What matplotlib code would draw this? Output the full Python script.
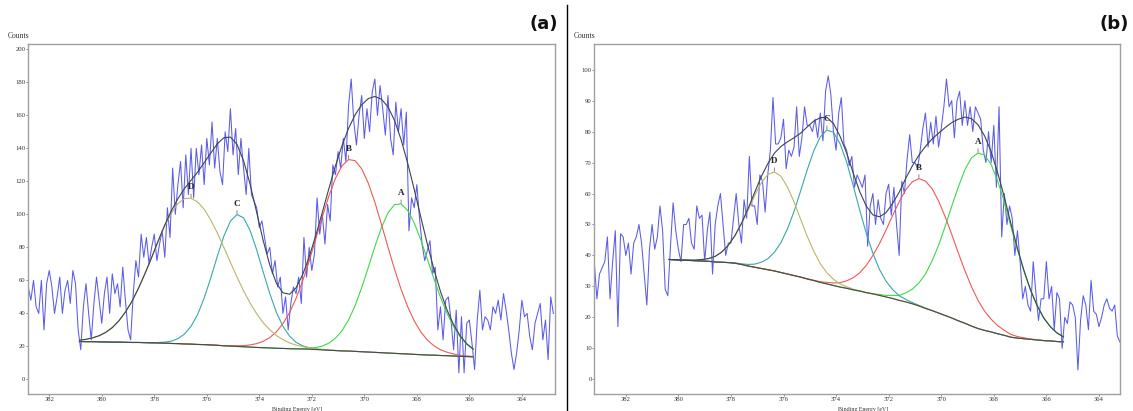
import numpy as np
import matplotlib
matplotlib.use("Agg")
import matplotlib.pyplot as plt
from matplotlib.lines import Line2D

# ---------------- panel (a) ----------------
# measured spectrum, 0.1 eV steps from 382.8 to 362.8 eV
energy_a = np.linspace(382.8, 362.8, 201)
counts_a = [
    56, 48, 60, 44, 40, 60, 30, 58, 66, 56,
    40, 50, 62, 40, 54, 60, 46, 66, 58, 30,
    18, 44, 58, 40, 24, 46, 62, 48, 34, 52,
    62, 40, 64, 52, 58, 44, 68, 48, 30, 24,
    52, 72, 62, 88, 74, 86, 70, 80, 88, 72,
    82, 90, 74, 104, 86, 128, 100, 118, 132, 104,
    136, 112, 140, 110, 140, 124, 142, 118, 146, 130,
    156, 128, 146, 126, 118, 150, 138, 164, 136, 152,
    124, 146, 128, 112, 140, 112, 108, 104, 92, 96,
    86, 76, 80, 64, 72, 56, 62, 40, 50, 30,
    46, 56, 52, 62, 46, 86, 62, 80, 66, 76,
    110, 88, 100, 82, 106, 96, 130, 124, 138, 128,
    146, 132, 166, 182, 156, 142, 160, 172, 146, 164,
    150, 174, 182, 160, 178, 164, 148, 172, 146, 136,
    168, 150, 164, 142, 162, 90, 110, 104, 118, 98,
    82, 72, 78, 84, 64, 68, 30, 44, 24, 48,
    50, 36, 18, 42, 4, 38, 4, 34, 36, 22,
    6, 36, 54, 30, 38, 36, 30, 44, 40, 48,
    36, 52, 42, 30, 16, 6, 16, 30, 48, 38,
    40, 26, 18, 34, 40, 46, 24, 36, 12, 50,
    40,
]

# fitted curves, 0.25 eV steps from 380.85 to 365.85 eV
fit_e_a = np.linspace(380.85, 365.85, 61)
base_a = [
    23.0, 22.9, 22.9, 22.8, 22.7, 22.6, 22.6, 22.5, 22.4, 22.4,
    22.3, 22.2, 22.1, 22.0, 21.8, 21.7, 21.5, 21.4, 21.2, 21.1,
    20.9, 20.7, 20.4, 20.2, 20.0, 19.8, 19.6, 19.4, 19.2, 19.1,
    18.9, 18.8, 18.6, 18.5, 18.4, 18.3, 18.1, 17.9, 17.7, 17.5,
    17.3, 17.2, 17.0, 16.8, 16.6, 16.4, 16.2, 16.0, 15.8, 15.6,
    15.4, 15.2, 15.0, 14.8, 14.7, 14.5, 14.4, 14.2, 14.0, 13.9,
    13.7,
]
# component heights above the background
peak_d_a = [
    0.8, 1.4, 2.3, 3.7, 5.8, 8.8, 12.9, 18.3, 24.9, 32.9,
    42.0, 51.7, 61.6, 71.0, 78.9, 84.8, 88.1, 88.4, 86.3, 82.0,
    75.7, 68.1, 59.6, 50.7, 42.1, 33.9, 26.7, 20.4, 15.1, 11.0,
    7.7, 5.3, 3.5, 2.3, 1.5, 0.9, 0.5, 0.3, 0.2, 0.1,
] + [0.0] * 21
peak_c_a = [0.0] * 12 + [
    0.3, 0.6, 1.4, 3.0, 6.0, 10.8, 18.1, 28.2, 40.5, 53.9,
    66.4, 75.7, 79.9, 78.1, 70.6, 59.1, 45.8, 32.9, 21.8, 13.4,
    7.7, 4.0, 2.0, 0.9, 0.4, 0.1,
] + [0.0] * 23
peak_b_a = [0.0] * 23 + [
    0.2, 0.4, 0.7, 1.3, 2.3, 3.9, 6.3, 9.9, 15.0, 21.8,
    30.6, 41.2, 53.5, 67.0, 80.6, 93.4, 104.3, 112.1, 116.0, 115.5,
    110.8, 102.3, 91.0, 77.9, 64.2, 51.0, 39.0, 28.7, 20.3, 13.8,
    9.1, 5.7, 3.5, 2.1, 1.2, 0.6, 0.3, 0.2,
]
peak_a_a = [0.0] * 32 + [
    0.0, 0.1, 0.3, 0.6, 1.2, 2.3, 4.3, 7.5, 12.2, 18.9,
    27.8, 38.8, 51.2, 64.0, 75.7, 84.9, 90.1, 90.7, 87.0, 79.6,
    69.6, 58.1, 46.3, 35.3, 25.6, 17.8, 11.8, 7.4, 4.5,
]

# ---------------- panel (b) ----------------
energy_b = np.linspace(383.2, 363.2, 201)
counts_b = [
    38, 26, 34, 36, 38, 46, 26, 38, 48, 17,
    47, 46, 40, 44, 34, 44, 46, 50, 44, 34,
    24, 42, 50, 42, 46, 56, 48, 29, 27, 43,
    57, 48, 42, 38, 50, 50, 52, 44, 42, 56,
    52, 53, 38, 48, 54, 34, 50, 56, 60, 50,
    40, 44, 44, 52, 60, 50, 44, 58, 52, 72,
    56, 56, 50, 66, 64, 54, 66, 74, 91, 76,
    76, 78, 84, 68, 74, 72, 75, 88, 72, 78,
    88, 82, 82, 80, 84, 78, 86, 77, 93, 98,
    92, 80, 74, 86, 91, 76, 74, 69, 72, 62,
    66, 64, 62, 66, 43, 56, 60, 50, 58, 52,
    50, 60, 63, 53, 62, 50, 40, 64, 60, 71,
    79, 70, 70, 68, 74, 81, 86, 75, 83, 76,
    85, 75, 81, 88, 97, 88, 90, 78, 90, 93,
    82, 90, 82, 88, 80, 88, 86, 84, 74, 70,
    80, 70, 82, 62, 88, 46, 60, 50, 56, 52,
    40, 48, 38, 26, 30, 24, 22, 38, 28, 19,
    26, 26, 38, 26, 30, 16, 28, 26, 10, 20,
    18, 25, 24, 20, 3, 19, 27, 24, 16, 32,
    22, 21, 17, 20, 24, 26, 23, 22, 24, 14,
    12,
]

fit_e_b = np.linspace(380.35, 365.35, 61)
base_b = [
    38.7, 38.6, 38.5, 38.4, 38.3, 38.2, 38.1, 37.9, 37.8, 37.7,
    37.5, 37.1, 36.6, 36.2, 35.8, 35.4, 35.0, 34.5, 34.0, 33.5,
    33.0, 32.4, 31.9, 31.3, 30.8, 30.3, 29.8, 29.4, 28.9, 28.5,
    28.0, 27.6, 27.1, 26.6, 26.1, 25.5, 25.0, 24.4, 23.7, 22.9,
    22.2, 21.4, 20.6, 19.8, 18.9, 18.1, 17.2, 16.4, 15.8, 15.3,
    14.7, 14.2, 13.6, 13.3, 13.1, 12.9, 12.7, 12.5, 12.4, 12.2,
    12.1,
]
peak_d_b = [
    0.0, 0.0, 0.0, 0.1, 0.2, 0.5, 0.9, 1.8, 3.3, 5.6,
    8.8, 13.1, 18.0, 23.1, 27.6, 30.7, 32.0, 31.1, 28.1, 23.8,
    18.7, 13.8, 9.5, 6.0, 3.6, 2.0, 1.0, 0.5, 0.2, 0.1,
    0.0, 0.0,
] + [0.0] * 29
peak_c_b = [0.0] * 8 + [
    0.0, 0.0, 0.1, 0.2, 0.5, 1.0, 2.0, 3.5, 6.0, 9.6,
    14.6, 20.7, 27.8, 35.2, 41.9, 47.0, 49.7, 49.5, 46.3, 40.8,
    33.7, 26.1, 19.1, 13.1, 8.4, 5.1, 2.9, 1.5, 0.8, 0.4,
    0.2, 0.1,
] + [0.0] * 21
peak_b_b = [0.0] * 21 + [
    0.1, 0.1, 0.2, 0.5, 0.8, 1.4, 2.4, 3.9, 5.9, 8.8,
    12.4, 16.7, 21.6, 26.8, 31.8, 36.2, 39.4, 41.1, 41.1, 39.4,
    36.2, 31.9, 27.0, 21.9, 17.0, 12.7, 9.1, 6.2, 4.1, 2.6,
    1.6, 0.9, 0.5, 0.3, 0.1, 0.1, 0.0, 0.0, 0.0, 0.0,
]
peak_a_b = [0.0] * 32 + [
    0.3, 0.5, 1.0, 1.6, 2.9, 4.7, 7.4, 11.1, 16.0, 21.9,
    28.8, 36.1, 43.2, 49.6, 54.3, 56.7, 56.6, 54.1, 49.3, 43.1,
    35.8, 28.5, 21.7, 15.8, 11.0, 7.3, 4.6, 2.8, 1.6,
]

peak_names = ["A", "B", "C", "D"]
peak_colors = ["#3fd84a", "#ee5a55", "#3aa7a8", "#bdb56a"]
x_ticks = [382, 380, 378, 376, 374, 372, 370, 368, 366, 364]

panels = [
    dict(energy=energy_a, counts=counts_a, fit_e=fit_e_a, base=base_a,
         peaks=[peak_a_a, peak_b_a, peak_c_a, peak_d_a],
         xlim=(382.81, 362.74), ylim=(-9.1, 203.2), yticks=range(0, 201, 20),
         rect=[0.0247, 0.0402, 0.4651, 0.8528], tag="(a)", tag_x=0.4925,
         counts_x=0.007, label_x=0.262),
    dict(energy=energy_b, counts=counts_b, fit_e=fit_e_b, base=base_b,
         peaks=[peak_a_b, peak_b_b, peak_c_b, peak_d_b],
         xlim=(383.2, 363.2), ylim=(-4.9, 108.3), yticks=range(0, 101, 10),
         rect=[0.5245, 0.0402, 0.4640, 0.8528], tag="(b)", tag_x=0.996,
         counts_x=0.506, label_x=0.762),
]

serif = ["Liberation Serif", "DejaVu Serif"]

fig = plt.figure(figsize=(11.33, 4.11), dpi=100)
fig.patch.set_facecolor("white")

for p in panels:
    ax = fig.add_axes(p["rect"])
    base = np.array(p["base"])
    ax.plot(p["energy"], p["counts"], color="#5b5be8", lw=0.75, zorder=1)
    total = base.copy()
    for name, comp, col in zip(peak_names, p["peaks"], peak_colors):
        comp = np.array(comp)
        total = total + comp
        curve = base + comp
        ax.plot(p["fit_e"], curve, color=col, lw=0.8, zorder=2)
        i = int(np.argmax(comp))
        ax.annotate(name, xy=(p["fit_e"][i], curve[i]), xytext=(0, 5),
                    textcoords="offset points", ha="center", va="bottom",
                    fontsize=6.5, fontweight="bold", family=serif,
                    color="#222222",
                    arrowprops=dict(arrowstyle="-", lw=0.5, color="#555555",
                                    shrinkA=0, shrinkB=0.5))
    ax.plot(p["fit_e"], base, color="#4a4a4a", lw=0.8, zorder=3)
    ax.plot(p["fit_e"], total, color="#3c4450", lw=0.8, zorder=4)

    ax.set_xlim(*p["xlim"])
    ax.set_ylim(*p["ylim"])
    ax.set_xticks(x_ticks)
    ax.set_yticks(list(p["yticks"]))
    ax.tick_params(length=1.2, width=0.6, color="#777777", labelsize=4.8,
                   labelcolor="#333333", pad=0.6)
    for lab in ax.get_xticklabels() + ax.get_yticklabels():
        lab.set_family(serif)
    for s in ax.spines.values():
        s.set_color("#a0a0a0")
        s.set_linewidth(1.0)

    fig.text(p["counts_x"], 1 - 36 / 411, "Counts", fontsize=5.5,
             family=serif, color="#333333", ha="left", va="center")
    fig.text(p["label_x"], -0.002, "Binding Energy [eV]", fontsize=4.2,
             family=serif, color="#333333", ha="center", va="bottom")
    fig.text(p["tag_x"], 1 - 24 / 411, p["tag"], fontsize=13,
             fontweight="bold", ha="right", va="center", color="#111111")

fig.add_artist(Line2D([0.5004, 0.5004], [0.0, 0.988], color="black", lw=1.0))

fig.savefig("out.png", dpi=100, facecolor="white")
